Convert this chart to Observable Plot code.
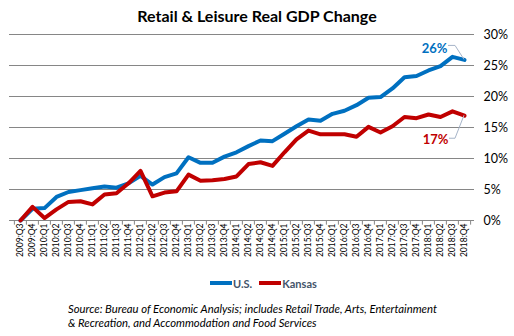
<!DOCTYPE html>
<html><head><meta charset="utf-8">
<script src="https://cdn.jsdelivr.net/npm/d3@7"></script>
<script src="https://cdn.jsdelivr.net/npm/@observablehq/plot@0.6"></script>
<style>
body{margin:0;background:#fff;font-family:Lato,"Open Sans",sans-serif;width:514px;height:336px;overflow:hidden;position:relative}
#title{position:absolute;top:0;left:0;width:514px;text-align:center;font-weight:bold;font-size:16px;line-height:32px;color:#000;z-index:2}
#chart{position:absolute;top:0;left:0;z-index:1}
#legend{position:absolute;top:276px;left:210px;display:flex;align-items:center;font-size:11px;font-weight:bold;color:#44546a;height:14px}
#legend .sw{display:inline-block;width:22px;height:4px;margin-right:1px}
#legend .item{display:flex;align-items:center;margin-right:7px}
#caption{position:absolute;top:302px;left:68px;font-style:italic;font-size:11.3px;line-height:14px;color:#000;white-space:nowrap}
</style></head>
<body>
<div id="title">Retail &amp; Leisure Real GDP Change</div>
<div id="chart"></div>
<div id="legend"></div>
<div id="caption">Source: Bureau of Economic Analysis; includes Retail Trade, Arts, Entertainment<br>&amp; Recreation, and Accommodation and Food Services</div>
<script>
const quarters = ["2009:Q3","2009:Q4",
 "2010:Q1","2010:Q2","2010:Q3","2010:Q4",
 "2011:Q1","2011:Q2","2011:Q3","2011:Q4",
 "2012:Q1","2012:Q2","2012:Q3","2012:Q4",
 "2013:Q1","2013:Q2","2013:Q3","2013:Q4",
 "2014:Q1","2014:Q2","2014:Q3","2014:Q4",
 "2015:Q1","2015:Q2","2015:Q3","2015:Q4",
 "2016:Q1","2016:Q2","2016:Q3","2016:Q4",
 "2017:Q1","2017:Q2","2017:Q3","2017:Q4",
 "2018:Q1","2018:Q2","2018:Q3","2018:Q4"];
const usValues = [0, 1.9, 2.0, 3.8, 4.6, 4.9, 5.2, 5.5, 5.3, 6.0, 7.2, 5.8, 7.0, 7.6, 10.2, 9.3, 9.3, 10.3, 11.0, 12.0, 12.9, 12.8, 14.0, 15.2, 16.3, 16.1, 17.2, 17.7, 18.6, 19.8, 19.9, 21.3, 23.1, 23.3, 24.2, 24.9, 26.4, 25.9];
const kansasValues = [0, 2.2, 0.4, 1.8, 3.0, 3.1, 2.6, 4.2, 4.4, 6.0, 8.0, 3.9, 4.5, 4.7, 7.4, 6.4, 6.5, 6.7, 7.1, 9.1, 9.4, 8.8, 11.0, 13.1, 14.5, 13.9, 13.9, 13.9, 13.5, 15.1, 14.2, 15.2, 16.7, 16.5, 17.1, 16.7, 17.6, 16.9];
const seriesNames = ["U.S.", "Kansas"];
const endLabels = ["26%", "17%"];
const yTicks = [0, 5, 10, 15, 20, 25, 30];

const colors = ["#0070c0", "#c00000"];
const W = 514, mL = 9, mR = 40;
const step = (W - mL - mR) / quarters.length;

const rows = [];
[usValues, kansasValues].forEach((vals, s) => vals.forEach((v, i) => rows.push({q: quarters[i], v, s: seriesNames[s]})));
const us = rows.filter(d => d.s === "U.S.");
const ks = rows.filter(d => d.s === "Kansas");
const lastUS = us[us.length - 1], lastKS = ks[ks.length - 1];

function leaders(index, scales) {
  const g = d3.create("svg:g").attr("fill", "none").attr("stroke", "#a6b4c8").attr("stroke-width", 1);
  const pts = [[lastUS, -16, -14], [lastKS, -15, 23]];
  for (const [d, ox, oy] of pts) {
    const x = scales.x(d.q), y = scales.y(d.v);
    g.append("path").attr("d", `M${x + ox},${y + oy}H${x - 9}L${x},${y}`);
  }
  return g.node();
}

const chart = Plot.plot({
  width: W, height: 270,
  marginLeft: mL, marginRight: mR, marginTop: 34, marginBottom: 50,
  style: {fontFamily: "Lato, sans-serif", background: "transparent"},
  x: {type: "point", domain: quarters, padding: 0.5, axis: null},
  y: {domain: [0, 30], axis: null},
  marks: [
    Plot.ruleY(yTicks, {stroke: "#868686", strokeWidth: 1}),
    Plot.ruleX(quarters, {x: d => d, y1: 0, y2: -0.75, dx: -step / 2, stroke: "#868686"}),
    Plot.ruleX([quarters[quarters.length - 1]], {x: d => d, y1: 0, y2: -0.75, dx: step / 2, stroke: "#868686"}),
    Plot.axisX({tickSize: 0, tickPadding: 3, tickRotate: -90, fontSize: 8.5, fill: "#000", label: null}),
    Plot.axisY({anchor: "right", ticks: yTicks, tickSize: 0, tickPadding: 9, tickFormat: d => d + "%", fontSize: 12.5, fill: "#000", label: null}),
    Plot.line(us, {x: "q", y: "v", stroke: colors[0], strokeWidth: 4, strokeLinejoin: "round"}),
    Plot.line(ks, {x: "q", y: "v", stroke: colors[1], strokeWidth: 4, strokeLinejoin: "round"}),
    leaders,
    Plot.text([lastUS], {x: "q", y: "v", text: () => endLabels[0], dx: -30, dy: -11, fill: colors[0], fontWeight: "bold", fontSize: 13}),
    Plot.text([lastKS], {x: "q", y: "v", text: () => endLabels[1], dx: -29, dy: 24, fill: colors[1], fontWeight: "bold", fontSize: 13})
  ]
});
document.getElementById("chart").append(chart);

const legend = document.getElementById("legend");
seriesNames.forEach((n, i) => {
  const it = document.createElement("div");
  it.className = "item";
  it.innerHTML = `<span class="sw" style="background:${colors[i]}"></span><span>${n}</span>`;
  legend.append(it);
});
</script>
</body></html>
